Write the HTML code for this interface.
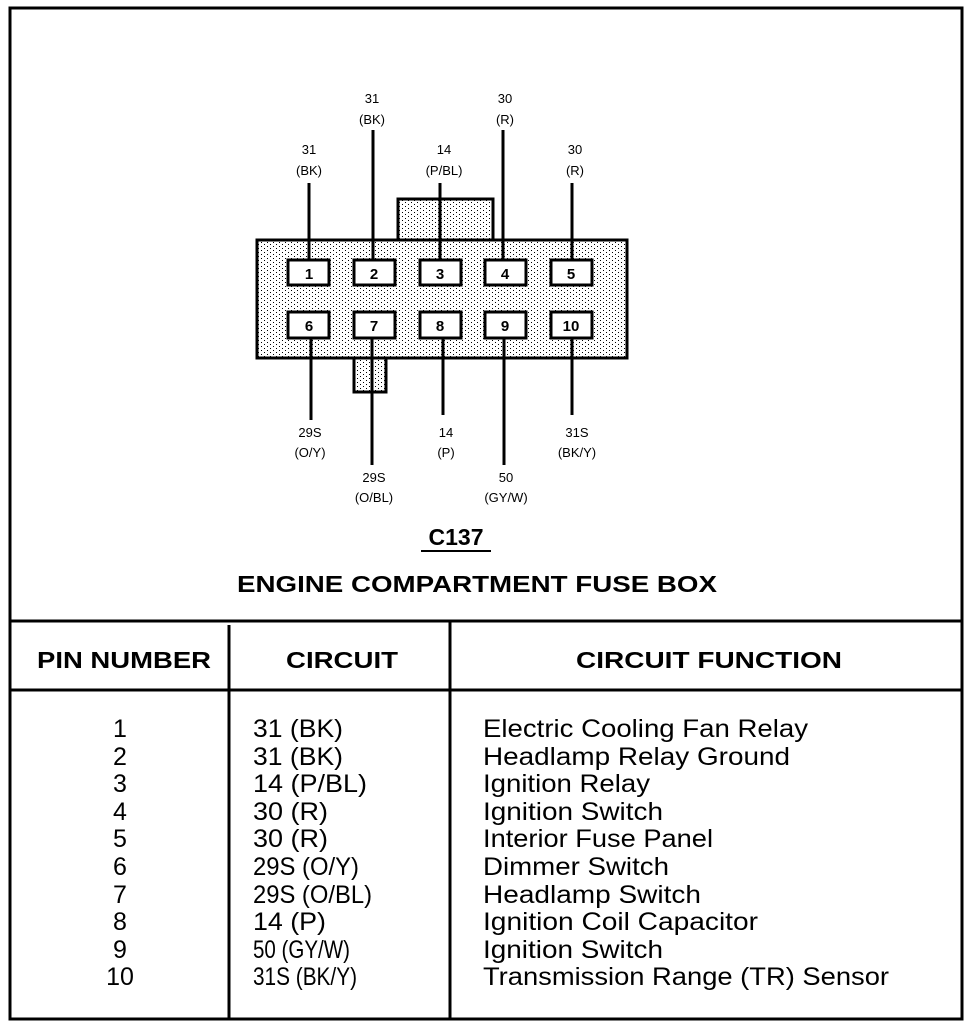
<!DOCTYPE html>
<html><head><meta charset="utf-8"><style>
html,body{margin:0;padding:0;background:#fff;}
svg{display:block;}
text{font-family:"Liberation Sans",Arial,sans-serif;fill:#000;}
.s{font-size:13px;}
.p{font-size:15px;font-weight:bold;}
.t{font-size:25px;}
.h{font-size:23px;font-weight:bold;}
</style></head><body>
<svg width="976" height="1028" viewBox="0 0 976 1028" xmlns="http://www.w3.org/2000/svg">
<defs>
<pattern id="dots" width="6" height="4" patternUnits="userSpaceOnUse">
<rect width="6" height="4" fill="#fff"/>
<rect x="0" y="0" width="1" height="1" fill="#000"/>
<rect x="3" y="2" width="1" height="1" fill="#000"/>
</pattern>
</defs>
<rect x="10" y="8" width="952" height="1011" fill="none" stroke="#000" stroke-width="3"/>
<rect x="398" y="199" width="95" height="42" fill="url(#dots)" stroke="#000" stroke-width="3"/>
<rect x="354" y="356" width="32" height="36" fill="url(#dots)" stroke="#000" stroke-width="3"/>
<rect x="257" y="240" width="370" height="118" fill="url(#dots)" stroke="#000" stroke-width="3"/>
<g fill="#fff" stroke="#000" stroke-width="3">
<rect x="288" y="260" width="41" height="25"/><rect x="354" y="260" width="41" height="25"/><rect x="420" y="260" width="41" height="25"/><rect x="485" y="260" width="41" height="25"/><rect x="551" y="260" width="41" height="25"/>
<rect x="288" y="312" width="41" height="26"/><rect x="354" y="312" width="41" height="26"/><rect x="420" y="312" width="41" height="26"/><rect x="485" y="312" width="41" height="26"/><rect x="551" y="312" width="41" height="26"/>
</g>
<g stroke="#000" stroke-width="3">
<line x1="309" y1="183" x2="309" y2="260"/>
<line x1="373" y1="130" x2="373" y2="260"/>
<line x1="440" y1="183" x2="440" y2="260"/>
<line x1="503" y1="130" x2="503" y2="260"/>
<line x1="572" y1="183" x2="572" y2="260"/>
<line x1="311" y1="338" x2="311" y2="420"/>
<line x1="372" y1="338" x2="372" y2="465"/>
<line x1="443" y1="338" x2="443" y2="415"/>
<line x1="504" y1="338" x2="504" y2="465"/>
<line x1="572" y1="338" x2="572" y2="415"/>
</g>
<g class="p" text-anchor="middle">
<text x="309" y="279">1</text><text x="374" y="279">2</text><text x="440" y="279">3</text><text x="505" y="279">4</text><text x="571" y="279">5</text>
<text x="309" y="331">6</text><text x="374" y="331">7</text><text x="440" y="331">8</text><text x="505" y="331">9</text><text x="571" y="331">10</text>
</g>
<g class="s" text-anchor="middle">
<text x="372" y="103">31</text><text x="372" y="124">(BK)</text>
<text x="505" y="103">30</text><text x="505" y="124">(R)</text>
<text x="309" y="154">31</text><text x="309" y="175">(BK)</text>
<text x="444" y="154">14</text><text x="444" y="175">(P/BL)</text>
<text x="575" y="154">30</text><text x="575" y="175">(R)</text>
<text x="310" y="437">29S</text><text x="310" y="457">(O/Y)</text>
<text x="446" y="437">14</text><text x="446" y="457">(P)</text>
<text x="577" y="437">31S</text><text x="577" y="457">(BK/Y)</text>
<text x="374" y="482">29S</text><text x="374" y="502">(O/BL)</text>
<text x="506" y="482">50</text><text x="506" y="502">(GY/W)</text>
</g>
<text x="456" y="545" class="h" text-anchor="middle">C137</text>
<line x1="421" y1="551" x2="491" y2="551" stroke="#000" stroke-width="2"/>
<text x="477" y="592" class="h" text-anchor="middle" textLength="480" lengthAdjust="spacingAndGlyphs">ENGINE COMPARTMENT FUSE BOX</text>
<g stroke="#000" stroke-width="3">
<line x1="10" y1="621" x2="962" y2="621"/>
<line x1="10" y1="690" x2="962" y2="690"/>
<line x1="229" y1="625" x2="229" y2="1019"/>
<line x1="450" y1="621" x2="450" y2="1019"/>
</g>
<text x="37" y="668" class="h" textLength="174" lengthAdjust="spacingAndGlyphs">PIN NUMBER</text>
<text x="286" y="668" class="h" textLength="112" lengthAdjust="spacingAndGlyphs">CIRCUIT</text>
<text x="576" y="668" class="h" textLength="266" lengthAdjust="spacingAndGlyphs">CIRCUIT FUNCTION</text>
<g class="t" text-anchor="middle">
<text x="120" y="737">1</text><text x="120" y="765">2</text><text x="120" y="792">3</text><text x="120" y="820">4</text><text x="120" y="847">5</text><text x="120" y="875">6</text><text x="120" y="903">7</text><text x="120" y="930">8</text><text x="120" y="958">9</text><text x="120" y="985">10</text>
</g>
<g class="t">
<text x="253" y="737" textLength="90" lengthAdjust="spacingAndGlyphs">31 (BK)</text>
<text x="253" y="765" textLength="90" lengthAdjust="spacingAndGlyphs">31 (BK)</text>
<text x="253" y="792" textLength="114" lengthAdjust="spacingAndGlyphs">14 (P/BL)</text>
<text x="253" y="820" textLength="75" lengthAdjust="spacingAndGlyphs">30 (R)</text>
<text x="253" y="847" textLength="75" lengthAdjust="spacingAndGlyphs">30 (R)</text>
<text x="253" y="875" textLength="106" lengthAdjust="spacingAndGlyphs">29S (O/Y)</text>
<text x="253" y="903" textLength="119" lengthAdjust="spacingAndGlyphs">29S (O/BL)</text>
<text x="253" y="930" textLength="73" lengthAdjust="spacingAndGlyphs">14 (P)</text>
<text x="253" y="958" textLength="97" lengthAdjust="spacingAndGlyphs">50 (GY/W)</text>
<text x="253" y="985" textLength="104" lengthAdjust="spacingAndGlyphs">31S (BK/Y)</text>
<text x="483" y="737" textLength="325" lengthAdjust="spacingAndGlyphs">Electric Cooling Fan Relay</text>
<text x="483" y="765" textLength="307" lengthAdjust="spacingAndGlyphs">Headlamp Relay Ground</text>
<text x="483" y="792" textLength="167" lengthAdjust="spacingAndGlyphs">Ignition Relay</text>
<text x="483" y="820" textLength="180" lengthAdjust="spacingAndGlyphs">Ignition Switch</text>
<text x="483" y="847" textLength="230" lengthAdjust="spacingAndGlyphs">Interior Fuse Panel</text>
<text x="483" y="875" textLength="186" lengthAdjust="spacingAndGlyphs">Dimmer Switch</text>
<text x="483" y="903" textLength="218" lengthAdjust="spacingAndGlyphs">Headlamp Switch</text>
<text x="483" y="930" textLength="275" lengthAdjust="spacingAndGlyphs">Ignition Coil Capacitor</text>
<text x="483" y="958" textLength="180" lengthAdjust="spacingAndGlyphs">Ignition Switch</text>
<text x="483" y="985" textLength="406" lengthAdjust="spacingAndGlyphs">Transmission Range (TR) Sensor</text>
</g>
</svg>
</body></html>
